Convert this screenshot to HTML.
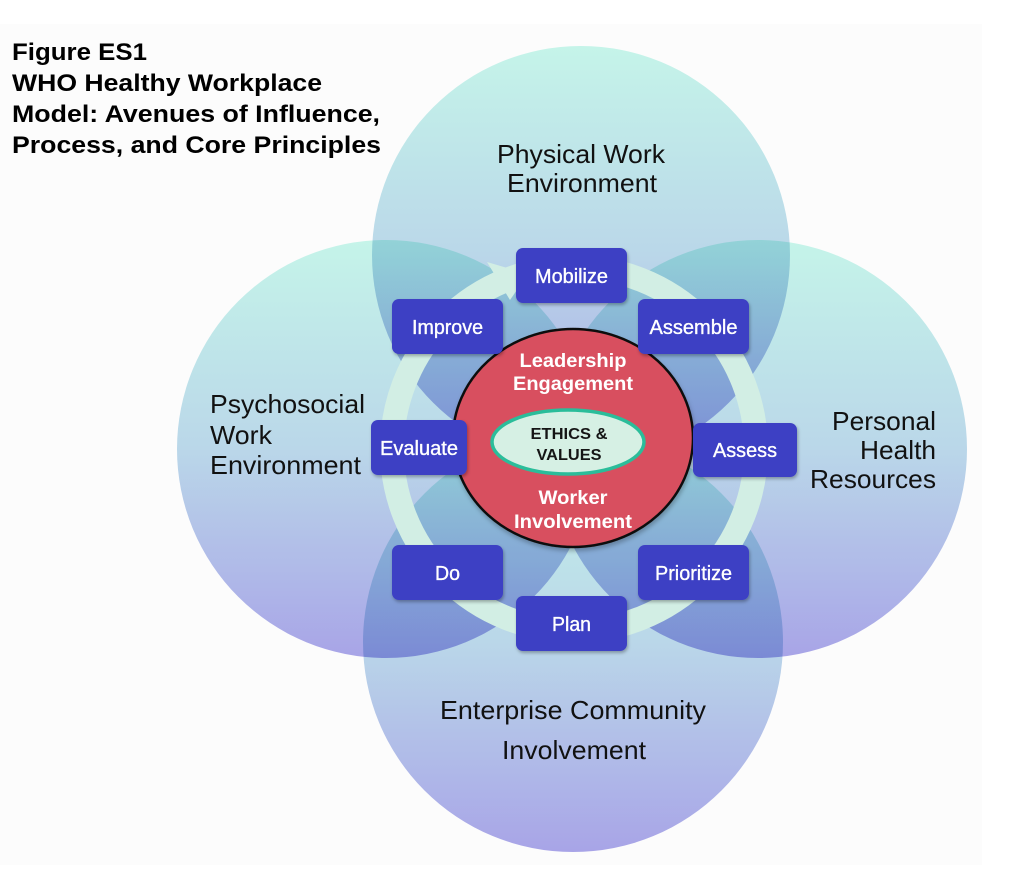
<!DOCTYPE html>
<html>
<head>
<meta charset="utf-8">
<style>
  html,body{margin:0;padding:0;background:#ffffff;}
  body{width:1024px;height:884px;overflow:hidden;}
  svg{display:block;}
  .lbl{font-family:"Liberation Sans",Arial,sans-serif;fill:#111;}
  .box{fill:#3c40c4;}
  .bt{font-family:"Liberation Sans",Arial,sans-serif;font-size:20px;fill:#fff;stroke:#fff;stroke-width:0.35;text-anchor:middle;}
  .rt{font-family:"Liberation Sans",Arial,sans-serif;font-size:19.5px;font-weight:bold;fill:#fff;text-anchor:middle;}
  .et{font-family:"Liberation Sans",Arial,sans-serif;font-size:16px;font-weight:bold;fill:#151515;text-anchor:middle;}
  .ttl{font-family:"Liberation Sans",Arial,sans-serif;font-size:24px;font-weight:bold;fill:#000;}
  .mc{mix-blend-mode:multiply;}
</style>
</head>
<body>
<svg width="1024" height="884" viewBox="0 0 1024 884" xmlns="http://www.w3.org/2000/svg">
  <defs>
    <linearGradient id="g" x1="0" y1="0" x2="0" y2="1">
      <stop offset="0" stop-color="#c8f7ec"/>
      <stop offset="0.5" stop-color="#bcdaec"/>
      <stop offset="1" stop-color="#aaa6ea"/>
    </linearGradient>
    <filter id="sh" x="-20%" y="-20%" width="140%" height="150%">
      <feDropShadow dx="1" dy="2" stdDeviation="1.5" flood-color="#000" flood-opacity="0.3"/>
    </filter>
    <filter id="sh2" x="-10%" y="-10%" width="120%" height="125%">
      <feDropShadow dx="1" dy="3" stdDeviation="2" flood-color="#000" flood-opacity="0.25"/>
    </filter>
  </defs>

  <rect x="0" y="0" width="1024" height="884" fill="#ffffff"/>
  <rect x="0" y="24" width="982" height="841" fill="#fcfcfc"/>

  <!-- Title -->
  <text class="ttl" x="12" y="60" textLength="135" lengthAdjust="spacingAndGlyphs">Figure ES1</text>
  <text class="ttl" x="12" y="91" textLength="310" lengthAdjust="spacingAndGlyphs">WHO Healthy Workplace</text>
  <text class="ttl" x="12" y="122" textLength="368" lengthAdjust="spacingAndGlyphs">Model: Avenues of Influence,</text>
  <text class="ttl" x="12" y="153" textLength="369" lengthAdjust="spacingAndGlyphs">Process, and Core Principles</text>

  <!-- Four circles -->
  <g>
    <circle class="mc" cx="581" cy="255" r="209" fill="url(#g)"/>
    <circle class="mc" cx="386" cy="449" r="209" fill="url(#g)"/>
    <circle class="mc" cx="758" cy="449" r="209" fill="url(#g)"/>
    <circle class="mc" cx="573" cy="642" r="210" fill="url(#g)"/>
  </g>

  <!-- Circle labels -->
  <text class="lbl" font-size="26" x="497" y="163" textLength="168" lengthAdjust="spacingAndGlyphs">Physical Work</text>
  <text class="lbl" font-size="26" x="507" y="192" textLength="150" lengthAdjust="spacingAndGlyphs">Environment</text>

  <text class="lbl" font-size="26" x="210" y="413" textLength="155" lengthAdjust="spacingAndGlyphs">Psychosocial</text>
  <text class="lbl" font-size="26" x="210" y="444" textLength="62" lengthAdjust="spacingAndGlyphs">Work</text>
  <text class="lbl" font-size="26" x="210" y="474" textLength="151" lengthAdjust="spacingAndGlyphs">Environment</text>

  <text class="lbl" font-size="26" x="832" y="430" textLength="104" lengthAdjust="spacingAndGlyphs">Personal</text>
  <text class="lbl" font-size="26" x="860" y="459" textLength="76" lengthAdjust="spacingAndGlyphs">Health</text>
  <text class="lbl" font-size="26" x="810" y="488" textLength="126" lengthAdjust="spacingAndGlyphs">Resources</text>

  <text class="lbl" font-size="26" x="440" y="719" textLength="266" lengthAdjust="spacingAndGlyphs">Enterprise Community</text>
  <text class="lbl" font-size="26" x="502" y="759" textLength="144" lengthAdjust="spacingAndGlyphs">Involvement</text>

  <!-- Ring arrow -->
  <circle cx="574" cy="449" r="182" fill="none" stroke="#d2eee4" stroke-width="24"/>
  <polygon points="487,262 528,274 510,300" fill="#d2eee4"/>

  <!-- Red core -->
  <ellipse cx="573" cy="438" rx="120" ry="109" fill="#d8505f" stroke="#111" stroke-width="2.5" filter="url(#sh2)"/>
  <text class="rt" x="573" y="367" textLength="107" lengthAdjust="spacingAndGlyphs">Leadership</text>
  <text class="rt" x="573" y="390" textLength="120" lengthAdjust="spacingAndGlyphs">Engagement</text>
  <text class="rt" x="573" y="504" textLength="69" lengthAdjust="spacingAndGlyphs">Worker</text>
  <text class="rt" x="573" y="528" textLength="118" lengthAdjust="spacingAndGlyphs">Involvement</text>

  <!-- Ethics ellipse -->
  <ellipse cx="568" cy="442" rx="76" ry="32" fill="#d6f0e4" stroke="#2bbd9a" stroke-width="3.5"/>
  <text class="et" x="569" y="439" textLength="77" lengthAdjust="spacingAndGlyphs">ETHICS &amp;</text>
  <text class="et" x="569" y="460" textLength="65" lengthAdjust="spacingAndGlyphs">VALUES</text>

  <!-- Process boxes -->
  <g filter="url(#sh)">
    <rect class="box" x="516" y="248" width="111" height="55" rx="7"/>
    <rect class="box" x="638" y="299" width="111" height="55" rx="7"/>
    <rect class="box" x="693" y="423" width="104" height="54" rx="7"/>
    <rect class="box" x="638" y="545" width="111" height="55" rx="7"/>
    <rect class="box" x="516" y="596" width="111" height="55" rx="7"/>
    <rect class="box" x="392" y="545" width="111" height="55" rx="7"/>
    <rect class="box" x="371" y="420" width="96" height="55" rx="7"/>
    <rect class="box" x="392" y="299" width="111" height="55" rx="7"/>
  </g>
  <text class="bt" x="571.5" y="283" textLength="73" lengthAdjust="spacingAndGlyphs">Mobilize</text>
  <text class="bt" x="693.5" y="334" textLength="88" lengthAdjust="spacingAndGlyphs">Assemble</text>
  <text class="bt" x="745" y="457" textLength="64" lengthAdjust="spacingAndGlyphs">Assess</text>
  <text class="bt" x="693.5" y="580" textLength="77" lengthAdjust="spacingAndGlyphs">Prioritize</text>
  <text class="bt" x="571.5" y="631" textLength="39" lengthAdjust="spacingAndGlyphs">Plan</text>
  <text class="bt" x="447.5" y="580" textLength="25" lengthAdjust="spacingAndGlyphs">Do</text>
  <text class="bt" x="419" y="455" textLength="78" lengthAdjust="spacingAndGlyphs">Evaluate</text>
  <text class="bt" x="447.5" y="334" textLength="71" lengthAdjust="spacingAndGlyphs">Improve</text>
</svg>
</body>
</html>
